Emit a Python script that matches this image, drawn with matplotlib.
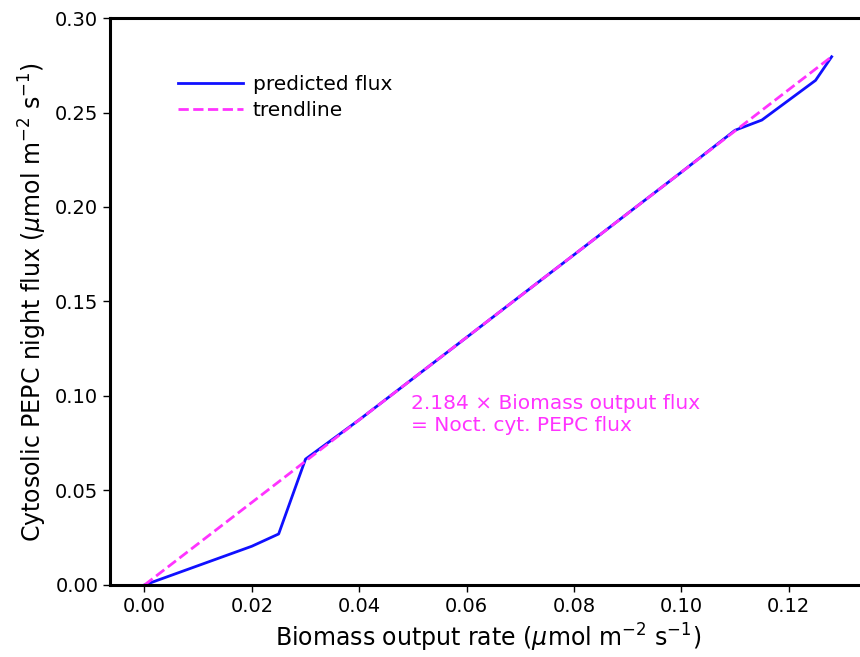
import matplotlib
matplotlib.use("Agg")
import matplotlib.pyplot as plt
import numpy as np

biomass = [0.0, 0.02, 0.025, 0.03, 0.04, 0.05, 0.06, 0.07, 0.08, 0.09, 0.10, 0.11, 0.115, 0.125, 0.128]
pepc = [0.0, 0.0205, 0.027, 0.0666, 0.0874, 0.1092, 0.1310, 0.1529, 0.1747, 0.1966, 0.2184, 0.2406, 0.246, 0.267, 0.2795]
slope = 2.184
trend_x = [0.0, 0.128]
trend_y = [slope * v for v in trend_x]

fig = plt.figure(figsize=(8.6, 6.57), dpi=100)
ax = fig.add_axes([0.128, 0.1096, 0.879, 0.863])
ax.plot(biomass, pepc, color="#1010ff", lw=2, label="predicted flux")
ax.plot(trend_x, trend_y, color="#ff33ff", lw=2, ls="--", label="trendline")
ax.set_xlim(-0.0064, 0.1344)
ax.set_ylim(0, 0.30)
ax.set_xticks([0.0, 0.02, 0.04, 0.06, 0.08, 0.10, 0.12])
ax.set_yticks([0.0, 0.05, 0.10, 0.15, 0.20, 0.25, 0.30])
ax.xaxis.set_major_formatter(matplotlib.ticker.FormatStrFormatter("%.2f"))
ax.yaxis.set_major_formatter(matplotlib.ticker.FormatStrFormatter("%.2f"))
for s in ax.spines.values():
    s.set_linewidth(2.2)
ax.tick_params(labelsize=14, length=5, width=1)
ax.set_xlabel(r"Biomass output rate ($\mu$mol m$^{-2}$ s$^{-1}$)", fontsize=17)
ax.set_ylabel(r"Cytosolic PEPC night flux ($\mu$mol m$^{-2}$ s$^{-1}$)", fontsize=17)
ax.text(0.0497, 0.0815, "2.184 × Biomass output flux\n= Noct. cyt. PEPC flux",
        color="#ff33ff", fontsize=14.5)
ax.legend(loc="upper left", bbox_to_anchor=(0.066, 0.932), frameon=False, fontsize=14.5,
          handlelength=3.2, handletextpad=0.5, labelspacing=0.35)
fig.savefig("out.png", dpi=100)
